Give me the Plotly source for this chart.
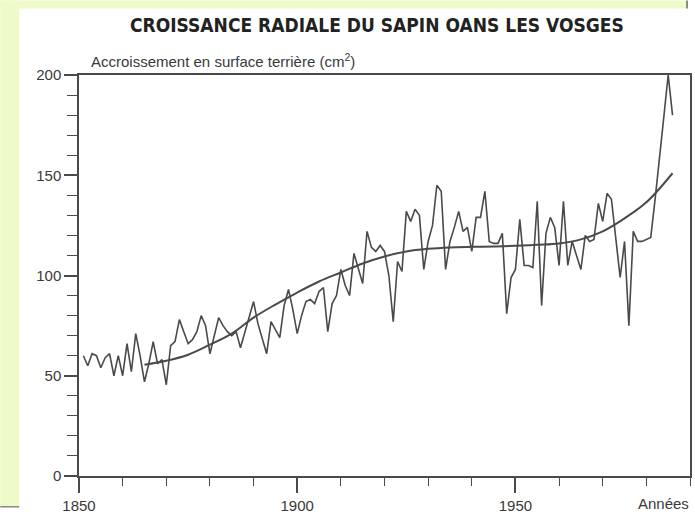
import plotly.graph_objects as go

# Annual radial growth (basal area increment, cm2)
years = list(range(1851, 1987))
growth = [
    60, 55, 61, 60, 54, 59, 61, 50, 60, 50,      # 1851-1860
    66, 52, 71, 60, 47, 56, 67, 56, 58, 45.5,    # 1861-1870
    65, 67, 78, 72, 66, 68, 72, 80, 75, 61,      # 1871-1880
    70, 79, 75, 72, 70, 72, 64, 72, 80, 87,      # 1881-1890
    76, 68, 61, 77, 73, 69, 85, 93, 83, 71,      # 1891-1900
    80, 87, 88, 86, 92, 94, 72, 86, 90, 103,     # 1901-1910
    95, 90, 111, 104, 96, 122, 114, 112, 115, 112,  # 1911-1920
    100, 77, 107, 102, 132, 127, 133, 130, 103, 117,  # 1921-1930
    125, 145, 142, 103, 117, 124, 132, 122, 124, 112,  # 1931-1940
    129, 129, 142, 117, 116, 116, 121, 81, 99, 103,    # 1941-1950
    128, 105, 105, 104, 137, 85, 121, 129, 124, 105,   # 1951-1960
    137, 105, 117, 110, 103, 120, 117, 118, 136, 127,  # 1961-1970
    141, 138, 120, 99, 117, 75, 122, 117, 117, 118,    # 1971-1980
    119, 138, 160, 179, 200, 180,                      # 1981-1986
]

# Smoothed trend curve
trend_years = [1865, 1870, 1875, 1880, 1885, 1890, 1895, 1900, 1905, 1910,
               1915, 1920, 1925, 1930, 1935, 1940, 1945, 1950, 1955, 1960,
               1965, 1970, 1975, 1980, 1986]
trend = [55.5, 57.5, 60.5, 65.5, 71, 79, 85.5, 91.5, 97, 101.5,
         106, 109.5, 112, 113.3, 114, 114.3, 114.5, 114.8, 115.3, 116,
         118, 122, 128.5, 136.5, 151]

x_tick_vals = [1850, 1900, 1950]
x_tick_text = ["1850", "1900", "1950"]
y_tick_vals = [0, 50, 100, 150, 200]

title_text = "CROISSANCE RADIALE DU SAPIN OANS LES VOSGES"
ytitle_text = "Accroissement en surface terrière (cm<sup>2</sup>)"
xtitle_text = "Années"

ink = "#4a4a4a"
txt = "#3a3a3a"
yellow = "#eefac8"

fig = go.Figure()
fig.add_trace(go.Scatter(x=years, y=growth, mode="lines",
                         line=dict(color=ink, width=1.6), hoverinfo="skip"))
fig.add_trace(go.Scatter(x=trend_years, y=trend, mode="lines",
                         line=dict(color=ink, width=2, shape="spline", smoothing=1.0),
                         hoverinfo="skip"))

W, H = 695, 517
L, R, T, B = 79, 3, 75, 38
pw = W - L - R
ph = H - T - B

def px(p):
    return (p - L) / pw

def py(p):
    return (H - B - p) / ph

shapes = [
    dict(type="rect", xref="paper", yref="paper", x0=px(0), x1=px(19), y0=py(510), y1=py(0),
         fillcolor=yellow, line=dict(width=0), layer="below"),
    dict(type="rect", xref="paper", yref="paper", x0=px(0), x1=px(689), y0=py(8), y1=py(0),
         fillcolor=yellow, line=dict(width=0), layer="below"),
    dict(type="line", xref="paper", yref="paper", x0=px(689), x1=px(689), y0=py(8), y1=py(0),
         line=dict(color="#666", width=1.5)),
    dict(type="line", xref="paper", yref="paper", x0=px(0), x1=px(19), y0=py(510), y1=py(510),
         line=dict(color="#888", width=1.5)),
]

annotations = [
    dict(text="<b>" + title_text + "</b>", xref="paper", yref="paper",
         x=px(378), y=py(25), xanchor="center", yanchor="middle", showarrow=False,
         font=dict(family="DejaVu Sans Condensed, Liberation Sans Narrow, Arial Narrow, sans-serif",
                   size=19, color="#222")),
    dict(text=ytitle_text, xref="paper", yref="paper",
         x=px(89), y=py(60), xanchor="left", yanchor="middle", showarrow=False,
         font=dict(family="Liberation Sans, Arial, sans-serif", size=15, color=txt)),
    dict(text=xtitle_text, xref="paper", yref="paper",
         x=px(693), y=py(507), xanchor="right", yanchor="middle", showarrow=False,
         font=dict(family="Liberation Sans, Arial, sans-serif", size=15, color=txt)),
]

fig.update_layout(
    width=W, height=H,
    margin=dict(l=L, r=R, t=T, b=B, pad=0),
    paper_bgcolor="white", plot_bgcolor="white",
    showlegend=False,
    shapes=shapes, annotations=annotations,
    font=dict(family="Liberation Sans, Arial, sans-serif", size=15, color=txt),
    xaxis=dict(range=[1850, 1990], tickvals=x_tick_vals, ticktext=x_tick_text,
               ticks="outside", ticklen=15, tickwidth=1.5, tickcolor=ink,
               minor=dict(dtick=10, tick0=1850, ticks="outside", ticklen=8, tickcolor=ink, tickwidth=1.2),
               showline=True, linecolor=ink, linewidth=1.5, mirror=True,
               showgrid=False, zeroline=False, fixedrange=True,
               tickfont=dict(size=15, color=txt)),
    yaxis=dict(range=[0, 200], tickvals=y_tick_vals,
               ticks="outside", ticklen=13, tickwidth=1.5, tickcolor=ink,
               minor=dict(dtick=10, tick0=0, ticks="outside", ticklen=10, tickcolor=ink, tickwidth=1.2),
               showline=True, linecolor=ink, linewidth=1.5, mirror=True,
               showgrid=False, zeroline=False, fixedrange=True,
               tickfont=dict(size=15, color=txt)),
)

fig.write_html("out.html", config={"displayModeBar": False},
               post_script="document.body.style.margin='0px';document.body.style.overflow='hidden';")
